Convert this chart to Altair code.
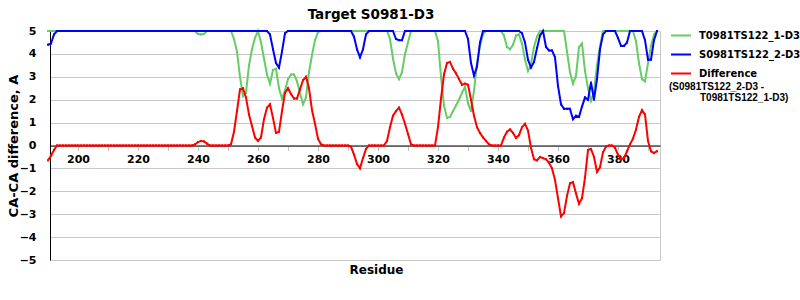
import altair as alt
import pandas as pd

# ---------------- data ----------------
residues = list(range(190, 394))

# S0981TS122_2-D3 (blue)
s_model = (
    [4.4, 4.45, 4.85, 5]
    + [5] * 70
    + [4.85, 4.2, 3.6, 3.4, 4.1, 4.9]
    + [5] * 22
    + [4.75, 4.2, 3.85, 4.2, 4.85]
    + [5] * 9
    + [4.65, 4.6, 4.6]
    + [5] * 21
    + [4.65, 3.6, 3.05, 3.45, 4.5]
    + [5] * 13
    + [4.9, 4.5, 3.75, 3.4, 3.65, 4.25, 4.8, 5, 4.3, 4.15, 4.15, 3.85, 2.6, 1.8,
       1.6, 1.6, 1.6, 1.15, 1.3, 1.25, 1.7, 2.1, 2.0, 2.75, 2.0, 2.9, 4.2, 4.85]
    + [5] * 4
    + [4.7, 4.35, 4.35, 4.5]
    + [5] * 5
    + [4.6, 3.75, 3.75, 4.6, 5]
)

# T0981TS122_1-D3 (green)
t_model = (
    [5] * 50
    + [4.87, 4.85, 4.87]
    + [5] * 9
    + [4.65, 4.1, 3.0, 2.15, 2.3, 3.5, 4.2, 4.7, 5, 4.5, 3.8, 3.1, 2.7, 3.3, 3.35,
       2.5, 2.05, 2.4, 2.9, 3.1, 3.1, 2.8, 2.3, 1.8, 2.1, 3.2, 3.95, 4.6, 4.95]
    + [5] * 23
    + [4.65, 3.8, 3.15, 2.9, 3.2, 4.0, 4.5]
    + [5] * 9
    + [4.55, 3.0, 1.75, 1.2, 1.25, 1.5, 1.75, 2.0, 2.3, 2.55, 1.85, 1.5, 2.4, 3.6,
       4.35, 4.85]
    + [5] * 6
    + [4.8, 4.3, 4.2, 4.4, 4.8, 4.85, 4.45, 3.75, 3.25, 3.55, 4.3, 4.75]
    + [5] * 9
    + [4.1, 3.2, 2.7, 3.05, 4.3, 4.45, 3.25, 2.5, 1.95, 2.35, 3.5, 4.35]
    + [5] * 11
    + [4.55, 3.6, 2.9, 2.8, 3.6, 4.35, 4.85, 5]
)

# Difference (red)
difference = (
    [-0.65, -0.45, -0.2, 0]
    + [0] * 45
    + [0.05, 0.15, 0.2, 0.18, 0.08]
    + [0] * 7
    + [0.05, 0.6, 1.5, 2.45, 2.5, 2.1, 1.35, 0.85, 0.35, 0.2, 0.35, 1.15, 1.65, 1.8,
       1.2, 0.55, 0.6, 1.5, 2.3, 2.5, 2.25, 2.05, 2.05, 2.45, 2.85, 3.0, 2.5, 1.55,
       0.95, 0.3, 0.05]
    + [0] * 9
    + [-0.05, -0.4, -0.8, -1.0, -0.55, -0.15]
    + [0] * 6
    + [0.2, 0.8, 1.3, 1.5, 1.65, 1.35, 0.95, 0.5, 0.05]
    + [0] * 8
    + [0.8, 2.05, 3.1, 3.6, 3.65, 3.35, 3.15, 2.9, 2.65, 2.7, 2.65, 2.0, 1.3, 0.8,
       0.55, 0.35, 0.2, 0.05]
    + [0] * 4
    + [0.35, 0.6, 0.7, 0.55, 0.33, 0.45, 0.8, 0.95, 0.65, -0.1, -0.6, -0.65, -0.5,
       -0.55, -0.6, -0.75, -1.0, -1.5, -2.3, -3.1, -2.95, -2.2, -1.65, -1.6, -2.1,
       -2.55, -2.3, -1.4, -0.2, -0.15, -0.5, -1.15, -0.95, -0.3, -0.05, 0, 0, -0.1,
       -0.4, -0.6, -0.55, -0.25, 0.05, 0.3, 0.7, 1.25, 1.55, 1.35, 0.2, -0.25,
       -0.33, -0.25]
)

series_names = ["T0981TS122_1-D3", "S0981TS122_2-D3", "Difference"]
series_colors = ["#66cc66", "#0000ff", "#ff0000"]
x_tick_values = [200, 210, 220, 230, 240, 250, 260, 270, 280, 290, 300, 310,
                 320, 330, 340, 350, 360, 370, 380, 390]
y_tick_values = [-5, -4, -3, -2, -1, 0, 1, 2, 3, 4, 5]
legend_note = ["(S0981TS122_2-D3 -", "T0981TS122_1-D3)"]
chart_title = "Target S0981-D3"

assert len(s_model) == len(residues)
assert len(t_model) == len(residues)
assert len(difference) == len(residues)

rows = []
for name, vals in zip(series_names, [t_model, s_model, difference]):
    for r, v in zip(residues, vals):
        rows.append({"residue": r, "value": v, "series": name})
df = pd.DataFrame(rows)

FONT = "DejaVu Sans"

x_enc = alt.X(
    "residue:Q",
    scale=alt.Scale(domain=[190.67, 394.0], nice=False, zero=False),
    axis=alt.Axis(
        values=x_tick_values,
        labelExpr="datum.value % 20 == 0 ? datum.label : ''",
        offset=-114.5,
        domainColor="black",
        domainWidth=1,
        tickColor="#c0c0c0",
        tickSize=5,
        labelPadding=3,
        labelFont=FONT,
        labelFontSize=11,
        labelFontWeight="bold",
        labelColor="black",
        labelFlush=False,
        labelOverlap=False,
        grid=False,
        title="Residue",
        titleFont=FONT,
        titleFontSize=12,
        titleFontWeight="bold",
        titleColor="black",
        titleX=326,
        titleY=118.5,
    ),
)

y_enc = alt.Y(
    "value:Q",
    scale=alt.Scale(domain=[-5, 5], nice=False, zero=False),
    axis=alt.Axis(
        values=y_tick_values,
        grid=True,
        gridColor="#c8c8c8",
        gridWidth=1,
        domainColor="black",
        domainWidth=1,
        ticks=False,
        labelPadding=14,
        labelFont=FONT,
        labelFontSize=11,
        labelFontWeight="bold",
        labelColor="black",
        title="CA-CA difference, A",
        titleFont=FONT,
        titleFontSize=13,
        titleFontWeight="bold",
        titleColor="black",
        titleX=-30,
        titleY=114.5,
    ),
)

color_enc = alt.Color(
    "series:N",
    scale=alt.Scale(domain=series_names, range=series_colors),
    legend=alt.Legend(
        title=None,
        orient="none",
        legendX=620,
        legendY=-6.5,
        symbolType="stroke",
        symbolSize=400,
        symbolStrokeWidth=2,
        labelFont=FONT,
        labelFontSize=10,
        labelFontWeight="bold",
        labelColor="black",
        labelOffset=7,
        labelLimit=200,
        rowPadding=3,
        padding=0,
    ),
)


def series_line(name):
    return (
        alt.Chart(df)
        .transform_filter(alt.datum.series == name)
        .mark_line(
            strokeWidth=2,
            point=alt.OverlayMarkDef(shape="square", size=4, filled=True),
        )
        .encode(x=x_enc, y=y_enc, color=color_enc)
    )


def label(text, px, py, font, size, align="left"):
    return (
        alt.Chart(pd.DataFrame({"note": [text]}))
        .mark_text(
            align=align,
            baseline="middle",
            font=font,
            fontSize=size,
            fontWeight="bold",
            color="black",
        )
        .encode(text="note:N", x=alt.value(px), y=alt.value(py))
    )


chart = (
    alt.layer(
        series_line(series_names[0]),
        series_line(series_names[1]),
        series_line(series_names[2]),
        label(legend_note[0], 619, 56, "Liberation Sans", 10),
        label(legend_note[1], 650, 67, "Liberation Sans", 10),
        label(chart_title, 321, -16, FONT, 13.5, align="center"),
    )
    .properties(
        width=610,
        height=229,
        autosize=alt.AutoSizeParams(type="none"),
        padding={"left": 50, "top": 31, "right": 140, "bottom": 40},
        background="white",
    )
    .configure_view(stroke="#c8c8c8", strokeWidth=1)
)

chart.save("out.html", embed_options={"renderer": "svg", "actions": False})
